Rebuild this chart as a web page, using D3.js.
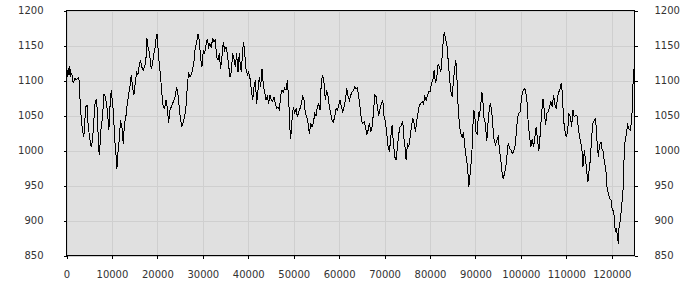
<!DOCTYPE html>
<html>
<head>
<meta charset="utf-8">
<script src="https://cdn.jsdelivr.net/npm/d3@7"></script>
<style>
  body { margin: 0; background: #fff; }
  svg { display: block; }
  .tick text { font-family: "DejaVu Sans", sans-serif; font-size: 10px; fill: #333; }
</style>
</head>
<body>
<script>
// data
var xValues = [
  0,147,294,441,587,734,881,1175,1468,1836,2203,2717,2937,3084,3304,3671,3818,4038,4259,4552,
  4772,4993,5286,5433,5727,6021,6315,6608,6755,6975,7195,7342,7636,7930,8223,8517,8810,9104,9324,9545,
  9838,10059,10352,10572,10866,11086,11307,11600,11894,12188,12481,12775,13069,13362,13656,13950,14243,14537,14830,15124,
  15418,15711,16005,16299,16592,16886,17180,17473,17694,17914,18134,18355,18649,18942,19236,19529,19750,19970,20117,20411,
  20704,20998,21292,21585,21879,22173,22466,22760,23054,23347,23641,23934,24228,24522,24815,25109,25403,25696,25990,26284,
  26577,26871,27165,27458,27752,28045,28339,28633,28926,29220,29514,29807,30101,30395,30688,30982,31276,31569,31863,32156,
  32450,32744,33037,33331,33625,33918,34212,34506,34799,35093,35387,35680,35974,36267,36561,36855,37148,37442,37736,38029,
  38179,38473,38767,38987,39207,39501,39795,40088,40382,40676,40969,41263,41557,41850,42144,42438,42731,43025,43318,43612,
  43906,44199,44493,44787,45080,45374,45668,45961,46255,46549,46842,47136,47429,47723,48017,48310,48604,48898,49191,49338,
  49559,49925,50219,50513,50807,51100,51394,51688,51981,52275,52569,52862,53156,53450,53743,54037,54330,54624,54918,55211,
  55505,55799,56092,56386,56680,56973,57267,57561,57854,58148,58442,58735,59029,59322,59616,59910,60203,60497,60791,61084,
  61378,61672,61965,62259,62553,62846,63140,63434,63727,64021,64314,64608,64902,65195,65489,65783,66076,66370,66664,66957,
  67251,67545,67838,68132,68426,68719,69013,69307,69600,69894,70187,70481,70775,71068,71362,71656,71949,72243,72537,72830,
  73124,73418,73711,74005,74299,74592,74739,75033,75326,75620,75914,76207,76501,76795,77088,77382,77676,77969,78263,78557,
  78850,79144,79438,79731,80025,80318,80612,80906,81199,81493,81787,82080,82374,82668,82961,83182,83402,83696,83989,84283,
  84577,84870,85164,85458,85678,85898,86192,86486,86779,87073,87367,87660,87954,88248,88541,88692,88986,89280,89573,89794,
  90088,90381,90675,90895,91189,91409,91630,91850,92144,92511,92804,93098,93318,93612,93833,94126,94420,94714,95007,95301,
  95594,95888,96108,96402,96696,96989,97210,97503,97797,98091,98384,98678,98972,99265,99559,99853,100146,100440,100733,101027,
  101321,101614,101908,102202,102495,102789,103083,103376,103670,103964,104257,104551,104845,105138,105432,105726,106019,106313,106606,106900,
  107194,107487,107781,108075,108368,108662,108882,109103,109396,109690,109984,110277,110571,110865,111158,111452,111746,112039,112333,112627,
  112920,113214,113507,113654,113948,114242,114535,114756,114976,115270,115564,115857,116151,116445,116738,117032,117326,117619,117913,118207,
  118354,118647,118941,119235,119528,119822,120116,120409,120556,120777,120997,121217,121438,121585,121879,122172,122466,122686,122907,123200,
  123494,123788,124081,124375,124522,124669,124816,124963
];
var yValues = [
  1100,1115,1105,1118,1108,1120,1106,1110,1096,1103,1101,1105,1077,1062,1039,1024,1019,1043,1063,1064,
  1034,1024,1010,1005,1015,1043,1070,1072,1058,1019,993,1005,1034,1048,1081,1077,1067,1048,1029,1060,
  1086,1072,1053,1019,996,974,996,1015,1043,1034,1010,1039,1048,1067,1079,1091,1108,1091,1079,1096,
  1112,1108,1122,1129,1119,1115,1119,1129,1160,1148,1143,1134,1117,1124,1139,1148,1162,1167,1148,1124,
  1105,1081,1062,1060,1072,1062,1039,1058,1062,1067,1072,1077,1091,1081,1062,1043,1034,1041,1048,1062,
  1091,1112,1105,1108,1115,1127,1148,1153,1167,1158,1131,1119,1143,1139,1150,1159,1148,1153,1146,1161,
  1155,1158,1134,1129,1139,1117,1134,1155,1143,1148,1139,1122,1105,1112,1139,1131,1119,1139,1112,1139,
  1127,1112,1143,1155,1139,1117,1108,1112,1103,1086,1072,1091,1100,1067,1086,1105,1091,1117,1093,1084,
  1072,1077,1067,1079,1072,1070,1077,1067,1060,1062,1058,1079,1086,1084,1089,1086,1100,1072,1029,1017,
  1039,1062,1053,1060,1048,1055,1060,1067,1077,1072,1053,1048,1039,1024,1039,1034,1039,1053,1050,1062,
  1067,1058,1100,1108,1096,1072,1086,1077,1062,1053,1043,1041,1048,1060,1058,1065,1072,1062,1055,1062,
  1072,1089,1077,1072,1079,1084,1086,1091,1088,1090,1077,1062,1043,1039,1041,1034,1022,1029,1039,1027,
  1034,1053,1079,1077,1062,1050,1060,1067,1072,1048,1041,1024,1005,998,1019,1036,1010,991,986,1005,
  1024,1034,1036,1042,1014,1000,986,1010,1005,1019,1034,1046,1039,1027,1043,1055,1065,1067,1070,1067,
  1077,1072,1079,1084,1084,1096,1100,1115,1096,1105,1124,1119,1112,1134,1162,1169,1158,1153,1129,1105,
  1084,1077,1100,1119,1129,1108,1062,1036,1024,1019,1027,1005,991,977,948,958,977,1005,1058,1055,
  1027,1024,1053,1050,1067,1084,1072,1048,1039,1014,1043,1062,1067,1053,1034,1014,1008,1015,1019,1000,
  986,967,960,967,977,996,1010,1003,1001,996,998,1005,1024,1048,1053,1055,1077,1084,1089,1086,
  1072,1039,1019,1005,1017,1005,1019,1034,1014,1000,1024,1053,1074,1058,1036,1053,1055,1062,1070,1062,
  1079,1065,1060,1077,1084,1089,1096,1084,1043,1029,1019,1027,1053,1048,1034,1058,1048,1050,1050,1034,
  1019,1010,996,977,1000,986,967,955,970,986,1019,1039,1043,1046,1014,991,1008,1012,1000,998,
  981,977,948,939,931,929,915,915,903,884,889,879,867,889,901,920,943,986,1012,1024,
  1036,1031,1029,1043,1062,1095,1110,1123
];
var xTicks = [0,10000,20000,30000,40000,50000,60000,70000,80000,90000,100000,110000,120000];
var yTicks = [850,900,950,1000,1050,1100,1150,1200];

var width = 700, height = 300;
var plotLeft = 66.5, plotRight = 634.5, plotTop = 10.5, plotBottom = 255.5;

var svg = d3.select("body").append("svg")
  .attr("width", width)
  .attr("height", height);

var x = d3.scaleLinear().domain([0, 125000]).range([plotLeft, plotRight]);
var y = d3.scaleLinear().domain([850, 1200]).range([plotBottom, plotTop]);

// plot background
svg.append("rect")
  .attr("x", plotLeft).attr("y", plotTop)
  .attr("width", plotRight - plotLeft).attr("height", plotBottom - plotTop)
  .attr("fill", "#e0e0e0");

// grid
svg.append("g").selectAll("line").data(xTicks).enter().append("line")
  .attr("x1", function(d) { return Math.round(x(d)) + 0.5; })
  .attr("x2", function(d) { return Math.round(x(d)) + 0.5; })
  .attr("y1", plotTop).attr("y2", plotBottom)
  .attr("stroke", "#cfcfcf").attr("shape-rendering", "crispEdges");
svg.append("g").selectAll("line").data(yTicks).enter().append("line")
  .attr("x1", plotLeft).attr("x2", plotRight)
  .attr("y1", function(d) { return Math.round(y(d)) + 0.5; })
  .attr("y2", function(d) { return Math.round(y(d)) + 0.5; })
  .attr("stroke", "#cfcfcf").attr("shape-rendering", "crispEdges");

// the line (aliased, like the original)
var pts = xValues.map(function(d, i) { return [d, yValues[i]]; });
svg.append("path")
  .datum(pts)
  .attr("fill", "none")
  .attr("stroke", "#000")
  .attr("stroke-width", 1)
  .attr("shape-rendering", "crispEdges")
  .attr("d", d3.line().x(function(d) { return x(d[0]); }).y(function(d) { return y(d[1]); }));

// frame
svg.append("rect")
  .attr("x", plotLeft).attr("y", plotTop)
  .attr("width", plotRight - plotLeft).attr("height", plotBottom - plotTop)
  .attr("fill", "none").attr("stroke", "#000")
  .attr("shape-rendering", "crispEdges");

// axes
svg.append("g")
  .attr("transform", "translate(0," + plotBottom + ")")
  .call(d3.axisBottom(x).tickValues(xTicks).tickFormat(d3.format("d")).tickSize(3).tickPadding(12).tickSizeOuter(0));
svg.append("g")
  .attr("transform", "translate(" + plotLeft + ",0)")
  .call(d3.axisLeft(y).tickValues(yTicks).tickFormat(d3.format("d")).tickSize(3).tickPadding(20).tickSizeOuter(0));
svg.append("g")
  .attr("transform", "translate(" + plotRight + ",0)")
  .call(d3.axisRight(y).tickValues(yTicks).tickFormat(d3.format("d")).tickSize(3).tickPadding(17).tickSizeOuter(0));

svg.selectAll(".domain").remove();
svg.selectAll(".tick line").attr("stroke", "#000").attr("shape-rendering", "crispEdges");
svg.selectAll(".tick text").attr("font-family", null).attr("font-size", null);
</script>
</body>
</html>
